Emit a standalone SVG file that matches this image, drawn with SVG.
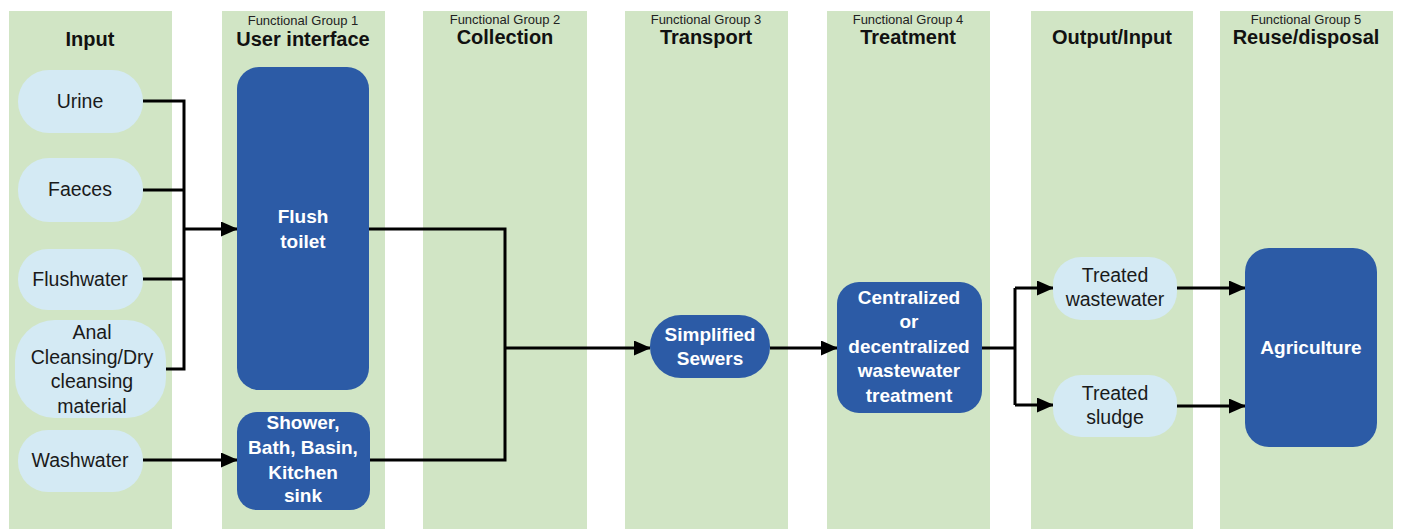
<svg xmlns="http://www.w3.org/2000/svg" width="1401" height="529" viewBox="0 0 1401 529">
<defs>
<style>
.col{fill:#d1e5c5}
.in{fill:#d4eaf4}
.box{fill:#2c5ba6}
.h{font-family:"Liberation Sans",Arial,sans-serif;font-weight:bold;font-size:20px;fill:#111;text-anchor:middle}
.fg{font-family:"Liberation Sans",Arial,sans-serif;font-size:13px;fill:#222;text-anchor:middle}
.t{font-family:"Liberation Sans",Arial,sans-serif;font-size:19.5px;fill:#1a1a1a;text-anchor:middle}
.w{font-family:"Liberation Sans",Arial,sans-serif;font-weight:bold;font-size:19px;fill:#fff;text-anchor:middle}
.c{fill:none;stroke:#000;stroke-width:3}
</style>
<marker id="ah" markerWidth="17" markerHeight="15" refX="16" refY="7.5" orient="auto" markerUnits="userSpaceOnUse">
<path d="M0,0 L17,7.5 L0,15 Z" fill="#000"/>
</marker>
</defs>
<rect width="1401" height="529" fill="#fff"/>
<g id="columns">
<rect class="col" x="9" y="11" width="163" height="518"/>
<rect class="col" x="222" y="11" width="163" height="518"/>
<rect class="col" x="423" y="11" width="164" height="518"/>
<rect class="col" x="625" y="11" width="163" height="518"/>
<rect class="col" x="827" y="11" width="163" height="518"/>
<rect class="col" x="1031" y="11" width="162" height="518"/>
<rect class="col" x="1220" y="11" width="173" height="518"/>
</g>
<g id="headings">
<text class="h" x="90" y="46">Input</text>
<text class="fg" x="303" y="25">Functional Group 1</text>
<text class="h" x="303" y="46">User interface</text>
<text class="fg" x="505" y="24">Functional Group 2</text>
<text class="h" x="505" y="44">Collection</text>
<text class="fg" x="706" y="24">Functional Group 3</text>
<text class="h" x="706" y="44">Transport</text>
<text class="fg" x="908" y="24">Functional Group 4</text>
<text class="h" x="908" y="44">Treatment</text>
<text class="h" x="1112" y="44">Output/Input</text>
<text class="fg" x="1306" y="24">Functional Group 5</text>
<text class="h" x="1306" y="44">Reuse/disposal</text>
</g>
<g id="connectors">
<path class="c" d="M143,101 H184 V369 H166"/>
<path class="c" d="M143,190 H184"/>
<path class="c" d="M143,279 H184"/>
<path class="c" d="M184,229 H237" marker-end="url(#ah)"/>
<path class="c" d="M143,460 H237" marker-end="url(#ah)"/>
<path class="c" d="M369,229 H505 V460 H370"/>
<path class="c" d="M505,348 H650" marker-end="url(#ah)"/>
<path class="c" d="M770,348 H837" marker-end="url(#ah)"/>
<path class="c" d="M982,348 H1015"/>
<path class="c" d="M1015,288 V405"/>
<path class="c" d="M1015,288 H1053" marker-end="url(#ah)"/>
<path class="c" d="M1015,405 H1053" marker-end="url(#ah)"/>
<path class="c" d="M1177,288 H1245" marker-end="url(#ah)"/>
<path class="c" d="M1177,406 H1245" marker-end="url(#ah)"/>
</g>
<g id="urine">
<rect class="in" x="18" y="70" width="125" height="63" rx="31"/>
<text class="t" x="80" y="108">Urine</text>
</g>
<g id="faeces">
<rect class="in" x="18" y="158" width="125" height="64" rx="31"/>
<text class="t" x="80" y="196">Faeces</text>
</g>
<g id="flushwater">
<rect class="in" x="18" y="249" width="125" height="61" rx="30"/>
<text class="t" x="80" y="286">Flushwater</text>
</g>
<g id="anal">
<rect class="in" x="15" y="320" width="151" height="98" rx="40"/>
<text class="t" x="92" y="339">Anal</text>
<text class="t" x="92" y="364">Cleansing/Dry</text>
<text class="t" x="92" y="388">cleansing</text>
<text class="t" x="92" y="413">material</text>
</g>
<g id="washwater">
<rect class="in" x="18" y="430" width="125" height="62" rx="30"/>
<text class="t" x="80" y="467">Washwater</text>
</g>
<g id="flush-toilet">
<rect class="box" x="237" y="67" width="132" height="323" rx="22"/>
<text class="w" x="303" y="223">Flush</text>
<text class="w" x="303" y="248">toilet</text>
</g>
<g id="shower">
<rect class="box" x="237" y="412" width="133" height="98" rx="20"/>
<text class="w" x="303" y="429">Shower,</text>
<text class="w" x="303" y="454">Bath, Basin,</text>
<text class="w" x="303" y="479">Kitchen</text>
<text class="w" x="303" y="502">sink</text>
</g>
<g id="sewers">
<rect class="box" x="650" y="315" width="120" height="63" rx="31"/>
<text class="w" x="710" y="341">Simplified</text>
<text class="w" x="710" y="365">Sewers</text>
</g>
<g id="treatment">
<rect class="box" x="837" y="282" width="145" height="131" rx="22"/>
<text class="w" x="909" y="304">Centralized</text>
<text class="w" x="909" y="328">or</text>
<text class="w" x="909" y="353">decentralized</text>
<text class="w" x="909" y="377">wastewater</text>
<text class="w" x="909" y="402">treatment</text>
</g>
<g id="treated-wastewater">
<rect class="in" x="1053" y="257" width="124" height="63" rx="28"/>
<text class="t" x="1115" y="282">Treated</text>
<text class="t" x="1115" y="306">wastewater</text>
</g>
<g id="treated-sludge">
<rect class="in" x="1053" y="375" width="124" height="62" rx="28"/>
<text class="t" x="1115" y="400">Treated</text>
<text class="t" x="1115" y="424">sludge</text>
</g>
<g id="agriculture">
<rect class="box" x="1245" y="248" width="132" height="199" rx="24"/>
<text class="w" x="1311" y="354">Agriculture</text>
</g>
</svg>
